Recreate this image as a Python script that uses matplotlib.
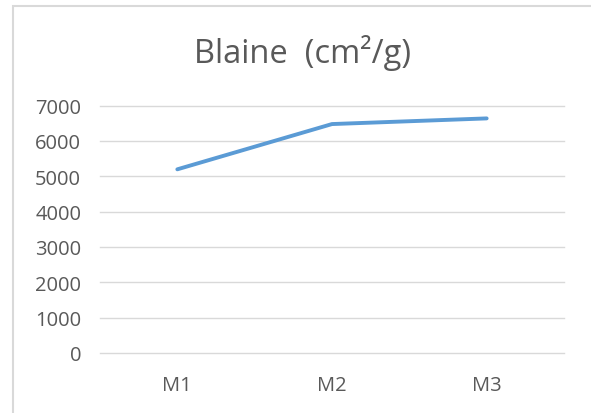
import matplotlib
matplotlib.use("Agg")
import matplotlib.pyplot as plt
from matplotlib.patches import Rectangle

categories = ["M1", "M2", "M3"]
values = [5195, 6475, 6635]
yticks = [0, 1000, 2000, 3000, 4000, 5000, 6000, 7000]

W, H = 591, 414
fig = plt.figure(figsize=(W / 100, H / 100), dpi=100)
fig.patch.set_facecolor("white")

# chart frame
fig.patches.append(Rectangle((13 / W, -0.2), 1.5, (H - 7) / H + 0.2,
                             transform=fig.transFigure, fill=False,
                             edgecolor="#D9D9D9", linewidth=1.5, clip_on=False))

left, right, top, bottom = 100, 564, 106.5, 354
ax = fig.add_axes([left / W, (H - bottom) / H, (right - left) / W, (bottom - top) / H])

x = list(range(len(categories)))
ax.plot(x, values, color="#5B9BD5", linewidth=2.8, solid_capstyle="round", zorder=3)

ax.set_xlim(-0.5, len(categories) - 0.5)
ax.set_ylim(0, 7000)
ax.set_yticks(yticks)
ax.set_yticklabels([str(v) for v in yticks])
ax.set_xticks(x)
ax.set_xticklabels(categories)

ax.grid(axis="y", color="#D9D9D9", linewidth=1.0)
for gl in ax.get_ygridlines():
    gl.set_clip_on(False)
ax.set_axisbelow(True)
for s in ax.spines.values():
    s.set_visible(False)
ax.tick_params(axis="both", length=0, colors="#595959", labelsize=14.5)
ax.tick_params(axis="y", pad=13.5)
ax.tick_params(axis="x", pad=16)
for lab in ax.get_xticklabels() + ax.get_yticklabels():
    lab.set_fontfamily("Open Sans")

fig.text(302.5 / W, (H - 63) / H, "Blaine  (cm²/g)", ha="center", va="baseline",
         fontsize=23.5, color="#595959", fontfamily="Open Sans")

fig.savefig("out.png", dpi=100, facecolor="white")
